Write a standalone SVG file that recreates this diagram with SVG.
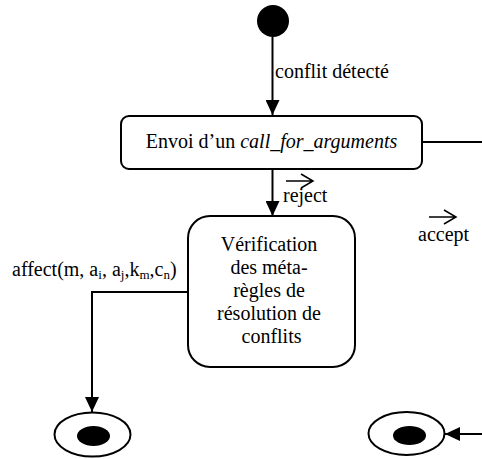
<svg xmlns="http://www.w3.org/2000/svg" width="482" height="459" viewBox="0 0 482 459" font-family="'Liberation Serif', 'DejaVu Serif', serif">
<style>
  .st { fill: #fff; stroke: #000; stroke-width: 2; }
  .ln { fill: none; stroke: #000; stroke-width: 2; }
  text { font-family: 'Liberation Serif', 'DejaVu Serif', serif; font-size: 20px; fill: #000; }
  .sub { font-size: 13px; }
  .vec { fill: none; stroke: #000; stroke-width: 1.5; }
</style>
<defs>
  <marker id="ah" markerWidth="15" markerHeight="14" refX="15" refY="7" orient="auto" markerUnits="userSpaceOnUse">
    <path d="M0,0 L15,7 L0,14 Z" fill="#000"/>
  </marker>
</defs>
<rect width="482" height="459" fill="#fff"/>
<g id="connectors">
  <path class="ln" d="M272.5,37 L272.5,115" marker-end="url(#ah)"/>
  <path class="ln" d="M272.5,169 L272.5,216" marker-end="url(#ah)"/>
  <path class="ln" d="M422,142 L482,142"/>
  <path class="ln" d="M188,292 L92,292 L92,412" marker-end="url(#ah)"/>
  <path class="ln" d="M482,434 L445,434" marker-end="url(#ah)"/>
  <text x="275" y="78">conflit détecté</text>
  <path class="vec" d="M286,181 L313,181 M301,174 L313,181 L301,188"/>
  <text x="283" y="202">reject</text>
  <path class="vec" d="M429,217 L456,217 M444,210 L456,217 L444,224"/>
  <text x="418" y="241">accept</text>
  <text x="12" y="276">affect(m, a<tspan class="sub" dy="3">i</tspan><tspan dy="-3">, a</tspan><tspan class="sub" dy="3">j</tspan><tspan dy="-3">,k</tspan><tspan class="sub" dy="3">m</tspan><tspan dy="-3">,c</tspan><tspan class="sub" dy="3">n</tspan><tspan dy="-3">)</tspan></text>
</g>
<g id="initial">
  <circle cx="273" cy="21" r="16" fill="#000"/>
</g>
<g id="envoi">
  <rect class="st" x="121" y="116" width="301" height="53" rx="8"/>
  <text x="271.5" y="148" text-anchor="middle">Envoi d’un <tspan font-style="italic">call_for_arguments</tspan></text>
</g>
<g id="verification">
  <rect class="st" x="188" y="216" width="167" height="151" rx="22"/>
  <text text-anchor="middle">
    <tspan x="271.5" y="251">Vérification</tspan>
    <tspan x="271.5" y="274">des méta-</tspan>
    <tspan x="271.5" y="297">règles de</tspan>
    <tspan x="271.5" y="320">résolution de</tspan>
    <tspan x="271.5" y="343">conflits</tspan>
  </text>
</g>
<g id="final1">
  <ellipse class="st" cx="92.5" cy="434.5" rx="38" ry="22"/>
  <ellipse cx="93.5" cy="436" rx="16.5" ry="10" fill="#000"/>
</g>
<g id="final2">
  <ellipse class="st" cx="406.5" cy="433.5" rx="38" ry="21.5"/>
  <ellipse cx="409.5" cy="435.5" rx="16.5" ry="9.5" fill="#000"/>
</g>
</svg>
